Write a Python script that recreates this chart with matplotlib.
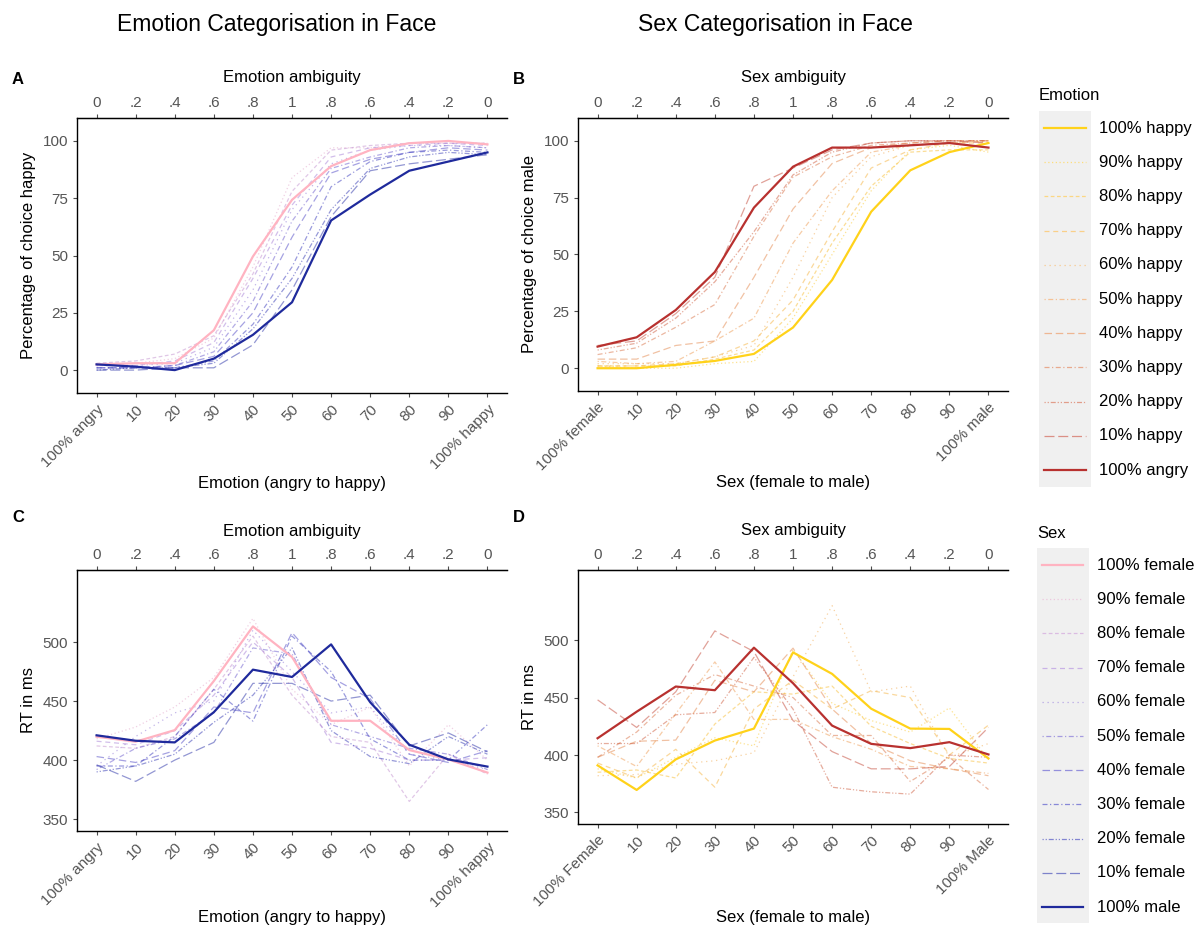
import matplotlib
matplotlib.use("Agg")
import matplotlib.pyplot as plt
from matplotlib.colors import LinearSegmentedColormap, to_rgb
from matplotlib.lines import Line2D
from matplotlib.patches import Rectangle

plt.rcParams['font.family'] = ['Liberation Sans', 'DejaVu Sans']

# morph steps along the x axis
steps = list(range(11))
emo_ticks = ['100% angry', '10', '20', '30', '40', '50', '60', '70', '80', '90', '100% happy']
sex_ticks_b = ['100% female', '10', '20', '30', '40', '50', '60', '70', '80', '90', '100% male']
sex_ticks_d = ['100% Female', '10', '20', '30', '40', '50', '60', '70', '80', '90', '100% Male']
ambiguity = ['0', '.2', '.4', '.6', '.8', '1', '.8', '.6', '.4', '.2', '0']

sex_levels = ['100% female', '90% female', '80% female', '70% female', '60% female',
              '50% female', '40% female', '30% female', '20% female', '10% female', '100% male']
emo_levels = ['100% happy', '90% happy', '80% happy', '70% happy', '60% happy',
              '50% happy', '40% happy', '30% happy', '20% happy', '10% happy', '100% angry']

# A: percentage "happy" responses, one row per sex level
choice_happy = [
    [2.5, 3, 3, 17.4, 49.6, 74.3, 89, 96, 99, 100, 98.5],
    [2, 3, 5, 14, 45, 84, 97, 97, 99, 99, 99],
    [3, 4, 7, 15, 42, 78, 96, 98, 99, 99, 99],
    [2, 2, 4, 12, 40, 72, 93, 97, 98, 99, 98],
    [2, 2, 3, 10, 35, 70, 90, 96, 98, 98, 97],
    [1, 1, 2, 8, 30, 65, 88, 93, 97, 98, 97],
    [1, 1, 2, 6, 25, 58, 86, 92, 95, 97, 96],
    [1, 1, 1, 4, 20, 45, 80, 91, 95, 96, 95],
    [0, 1, 1, 3, 18, 40, 70, 88, 93, 95, 94],
    [0, 0, 1, 1, 11, 35, 67, 87, 90, 92, 94],
    [2.5, 1.5, 0, 5, 15.4, 29.6, 65.3, 76.6, 87, 91, 95],
]

# B: percentage "male" responses, one row per emotion level
choice_male = [
    [0, 0, 1.5, 3.2, 6.3, 17.9, 38.8, 68.8, 87, 95, 99],
    [1, 0, 0, 2, 3, 22, 50, 78, 96, 98, 95],
    [1, 1, 1, 4, 8, 25, 55, 80, 95, 96, 96],
    [1, 1, 2, 5, 12, 30, 60, 88, 96, 99, 99],
    [2, 2, 2, 5, 10, 40, 75, 93, 98, 99, 100],
    [3, 2, 3, 12, 22, 55, 78, 95, 98, 99, 100],
    [4, 4, 10, 12, 40, 70, 90, 97, 99, 100, 100],
    [6, 9, 18, 28, 58, 84, 93, 98, 99, 100, 100],
    [8, 11, 22, 38, 60, 85, 95, 99, 100, 100, 100],
    [10, 12, 24, 40, 80, 88, 96, 99, 100, 100, 99],
    [9.5, 13.6, 25.6, 42.3, 70.6, 88.6, 97, 97, 98, 99, 97],
]

# C: reaction times for emotion judgements
rt_emotion = [
    [419.8, 415.6, 425.4, 467, 513.2, 487.3, 433.3, 433.3, 408.5, 400.6, 389.4],
    [418, 428, 445, 470, 520, 460, 430, 445, 395, 430, 400],
    [412, 410, 420, 460, 505, 455, 420, 415, 365, 405, 388],
    [416, 413, 425, 455, 500, 470, 415, 410, 400, 400, 402],
    [395, 420, 440, 450, 510, 475, 440, 445, 405, 400, 392],
    [392, 410, 418, 440, 495, 490, 430, 420, 410, 405, 392],
    [403, 398, 408, 445, 440, 508, 470, 452, 405, 398, 408],
    [395, 395, 420, 460, 433, 505, 475, 418, 400, 400, 430],
    [390, 395, 405, 432, 455, 495, 425, 403, 397, 420, 405],
    [396, 382, 400, 415, 465, 465, 450, 455, 412, 423, 407],
    [421, 416.4, 415, 440.6, 476.6, 470.4, 498, 449, 413, 400.6, 394.5],
]

# D: reaction times for sex judgements
rt_sex = [
    [391, 369.6, 396.2, 412.6, 423, 489.3, 470.6, 440.3, 423, 422.7, 397],
    [388, 380, 398, 415, 408, 492, 445, 430, 420, 441, 396],
    [385, 387, 380, 427, 455, 453, 460, 425, 410, 397, 393],
    [393, 380, 405, 372, 440, 465, 440, 456, 450, 400, 426],
    [382, 383, 392, 395, 402, 468, 530, 455, 460, 398, 410],
    [408, 390, 436, 481, 431, 431, 416, 405, 390, 388, 384],
    [398, 412, 413, 465, 455, 493, 440, 410, 395, 388, 382],
    [398, 420, 452, 470, 460, 450, 417, 417, 377, 398, 370],
    [410, 410, 435, 437, 485, 440, 372, 368, 366, 400, 398],
    [448, 424, 455, 508, 490, 430, 403, 388, 388, 390, 424],
    [414.6, 437.7, 459.6, 456.4, 493.4, 462.5, 425.6, 409.7, 406, 411.2, 400.5],
]

# line types, outer levels solid
dashes = ['-', (0, (1, 2)), (0, (3, 2)), (0, (4, 3)), (0, (1, 3)), (0, (1, 2, 4, 2)),
          (0, (6, 3)), (0, (4, 2, 1, 2)), (0, (1, 1.5, 1, 1.5, 4, 1.5)), (0, (8, 3)), '-']

sex_cmap = LinearSegmentedColormap.from_list('sex', ['#FFB3C1', '#9A78D8', '#3A3AC0', '#1F2A9C'])
emo_cmap = LinearSegmentedColormap.from_list('emo', ['#FFD21A', '#EE9A50', '#B8312F'])

W, H = 1200, 930


def px(x, y):
    return x / W, 1 - y / H


def style_for(i, cmap):
    if i == 0:
        return cmap(0.0), 1.0, 1.6
    if i == 10:
        return cmap(1.0), 1.0, 1.6
    return cmap(i / 10), 0.5, 0.9


def faded(c, a):
    # flat colour of a semi-transparent line over white
    r, g, b = to_rgb(c)
    return (1 - a + a * r, 1 - a + a * g, 1 - a + a * b)


def draw_panel(ax, rows, cmap, ylim, yticks, bottom_labels, xlabel, ylabel, toplabel,
               box, xlabel_y, toplabel_y):
    order = list(range(1, 10)) + [0, 10]
    for i in order:
        c, a, lw = style_for(i, cmap)
        ax.plot(steps, rows[i], color=c, alpha=a, lw=lw, linestyle=dashes[i])
    ax.set_xlim(-0.5, 10.5)
    ax.set_ylim(*ylim)
    ax.set_yticks(yticks)
    ax.set_xticks(steps)
    ax.set_xticklabels(bottom_labels, rotation=45, ha='right', va='top', rotation_mode='anchor')
    ax.tick_params(colors='#4D4D4D', labelsize=11, length=3, width=0.8, labelcolor='#555555')
    ax.spines['right'].set_visible(False)
    for s in ['left', 'top', 'bottom']:
        ax.spines[s].set_color('black')
        ax.spines[s].set_linewidth(1.0)
    top, bottom = box
    hpx = bottom - top
    ax.set_xlabel(xlabel, fontsize=12)
    ax.xaxis.set_label_coords(0.5, (bottom - xlabel_y) / hpx)
    ax.xaxis.label.set_va('center')
    ax.set_ylabel(ylabel, fontsize=12, labelpad=5)
    sec = ax.secondary_xaxis('top')
    sec.set_xticks(steps)
    sec.set_xticklabels(ambiguity)
    sec.tick_params(colors='#4D4D4D', labelsize=11, length=3, width=0.8, labelcolor='#555555',
                    pad=2.5)
    sec.spines['top'].set_color('black')
    sec.set_xlabel(toplabel, fontsize=12)
    sec.xaxis.set_label_coords(0.5, 1 + (top - toplabel_y) / hpx, transform=ax.transAxes)
    sec.xaxis.label.set_va('center')


fig = plt.figure(figsize=(12, 9.3), dpi=100)

axA = fig.add_axes([0.0642, 0.5774, 0.3583, 0.2957])
axB = fig.add_axes([0.4817, 0.5796, 0.3583, 0.2935])
axC = fig.add_axes([0.0642, 0.1065, 0.3583, 0.2806])
axD = fig.add_axes([0.4817, 0.1140, 0.3583, 0.2731])

draw_panel(axA, choice_happy, sex_cmap, (-10, 110), [0, 25, 50, 75, 100], emo_ticks,
           'Emotion (angry to happy)', 'Percentage of choice happy', 'Emotion ambiguity',
           (118, 393), 483, 77)
draw_panel(axB, choice_male, emo_cmap, (-10, 110), [0, 25, 50, 75, 100], sex_ticks_b,
           'Sex (female to male)', 'Percentage of choice male', 'Sex ambiguity',
           (118, 391), 483, 77)
draw_panel(axC, rt_emotion, sex_cmap, (340, 561), [350, 400, 450, 500], emo_ticks,
           'Emotion (angry to happy)', 'RT in ms', 'Emotion ambiguity',
           (570, 831), 918, 531)
draw_panel(axD, rt_sex, emo_cmap, (340, 561), [350, 400, 450, 500], sex_ticks_d,
           'Sex (female to male)', 'RT in ms', 'Sex ambiguity',
           (570, 824), 918, 531)

fig.text(*px(277, 25), 'Emotion Categorisation in Face', fontsize=16.5, ha='center', va='center')
fig.text(*px(775, 25), 'Sex Categorisation in Face', fontsize=16.5, ha='center', va='center')
for letter, (x, y) in zip('ABCD', [(18, 80), (519, 80), (18, 518), (519, 518)]):
    fig.text(*px(x, y), letter, fontsize=12, fontweight='bold', ha='center', va='center')


def draw_legend(title, levels, cmap, title_y, box, first_y, key_x, label_x):
    fig.text(*px(box[0], title_y), title, fontsize=12, ha='left', va='center')
    x0, y0, x1, y1 = box
    fig.add_artist(Rectangle(px(x0, y1), (x1 - x0) / W, (y1 - y0) / H,
                             transform=fig.transFigure, facecolor='#F0F0F0', edgecolor='none'))
    for i, lab in enumerate(levels):
        y = first_y + i * 34.2
        c, a, lw = style_for(i, cmap)
        fig.add_artist(Line2D([key_x[0] / W, key_x[1] / W], [1 - y / H, 1 - y / H],
                              transform=fig.transFigure, color=faded(c, min(1, a * 1.2)),
                              lw=lw, linestyle=dashes[i]))
        fig.text(*px(label_x, y), lab, fontsize=12, ha='left', va='center')


draw_legend('Emotion', emo_levels, emo_cmap, 96, (1039, 111, 1091, 487), 128,
            (1044, 1086), 1099)
draw_legend('Sex', sex_levels, sex_cmap, 533, (1037, 548, 1089, 923), 565,
            (1042, 1083), 1097)

fig.savefig('out.png', dpi=100)
